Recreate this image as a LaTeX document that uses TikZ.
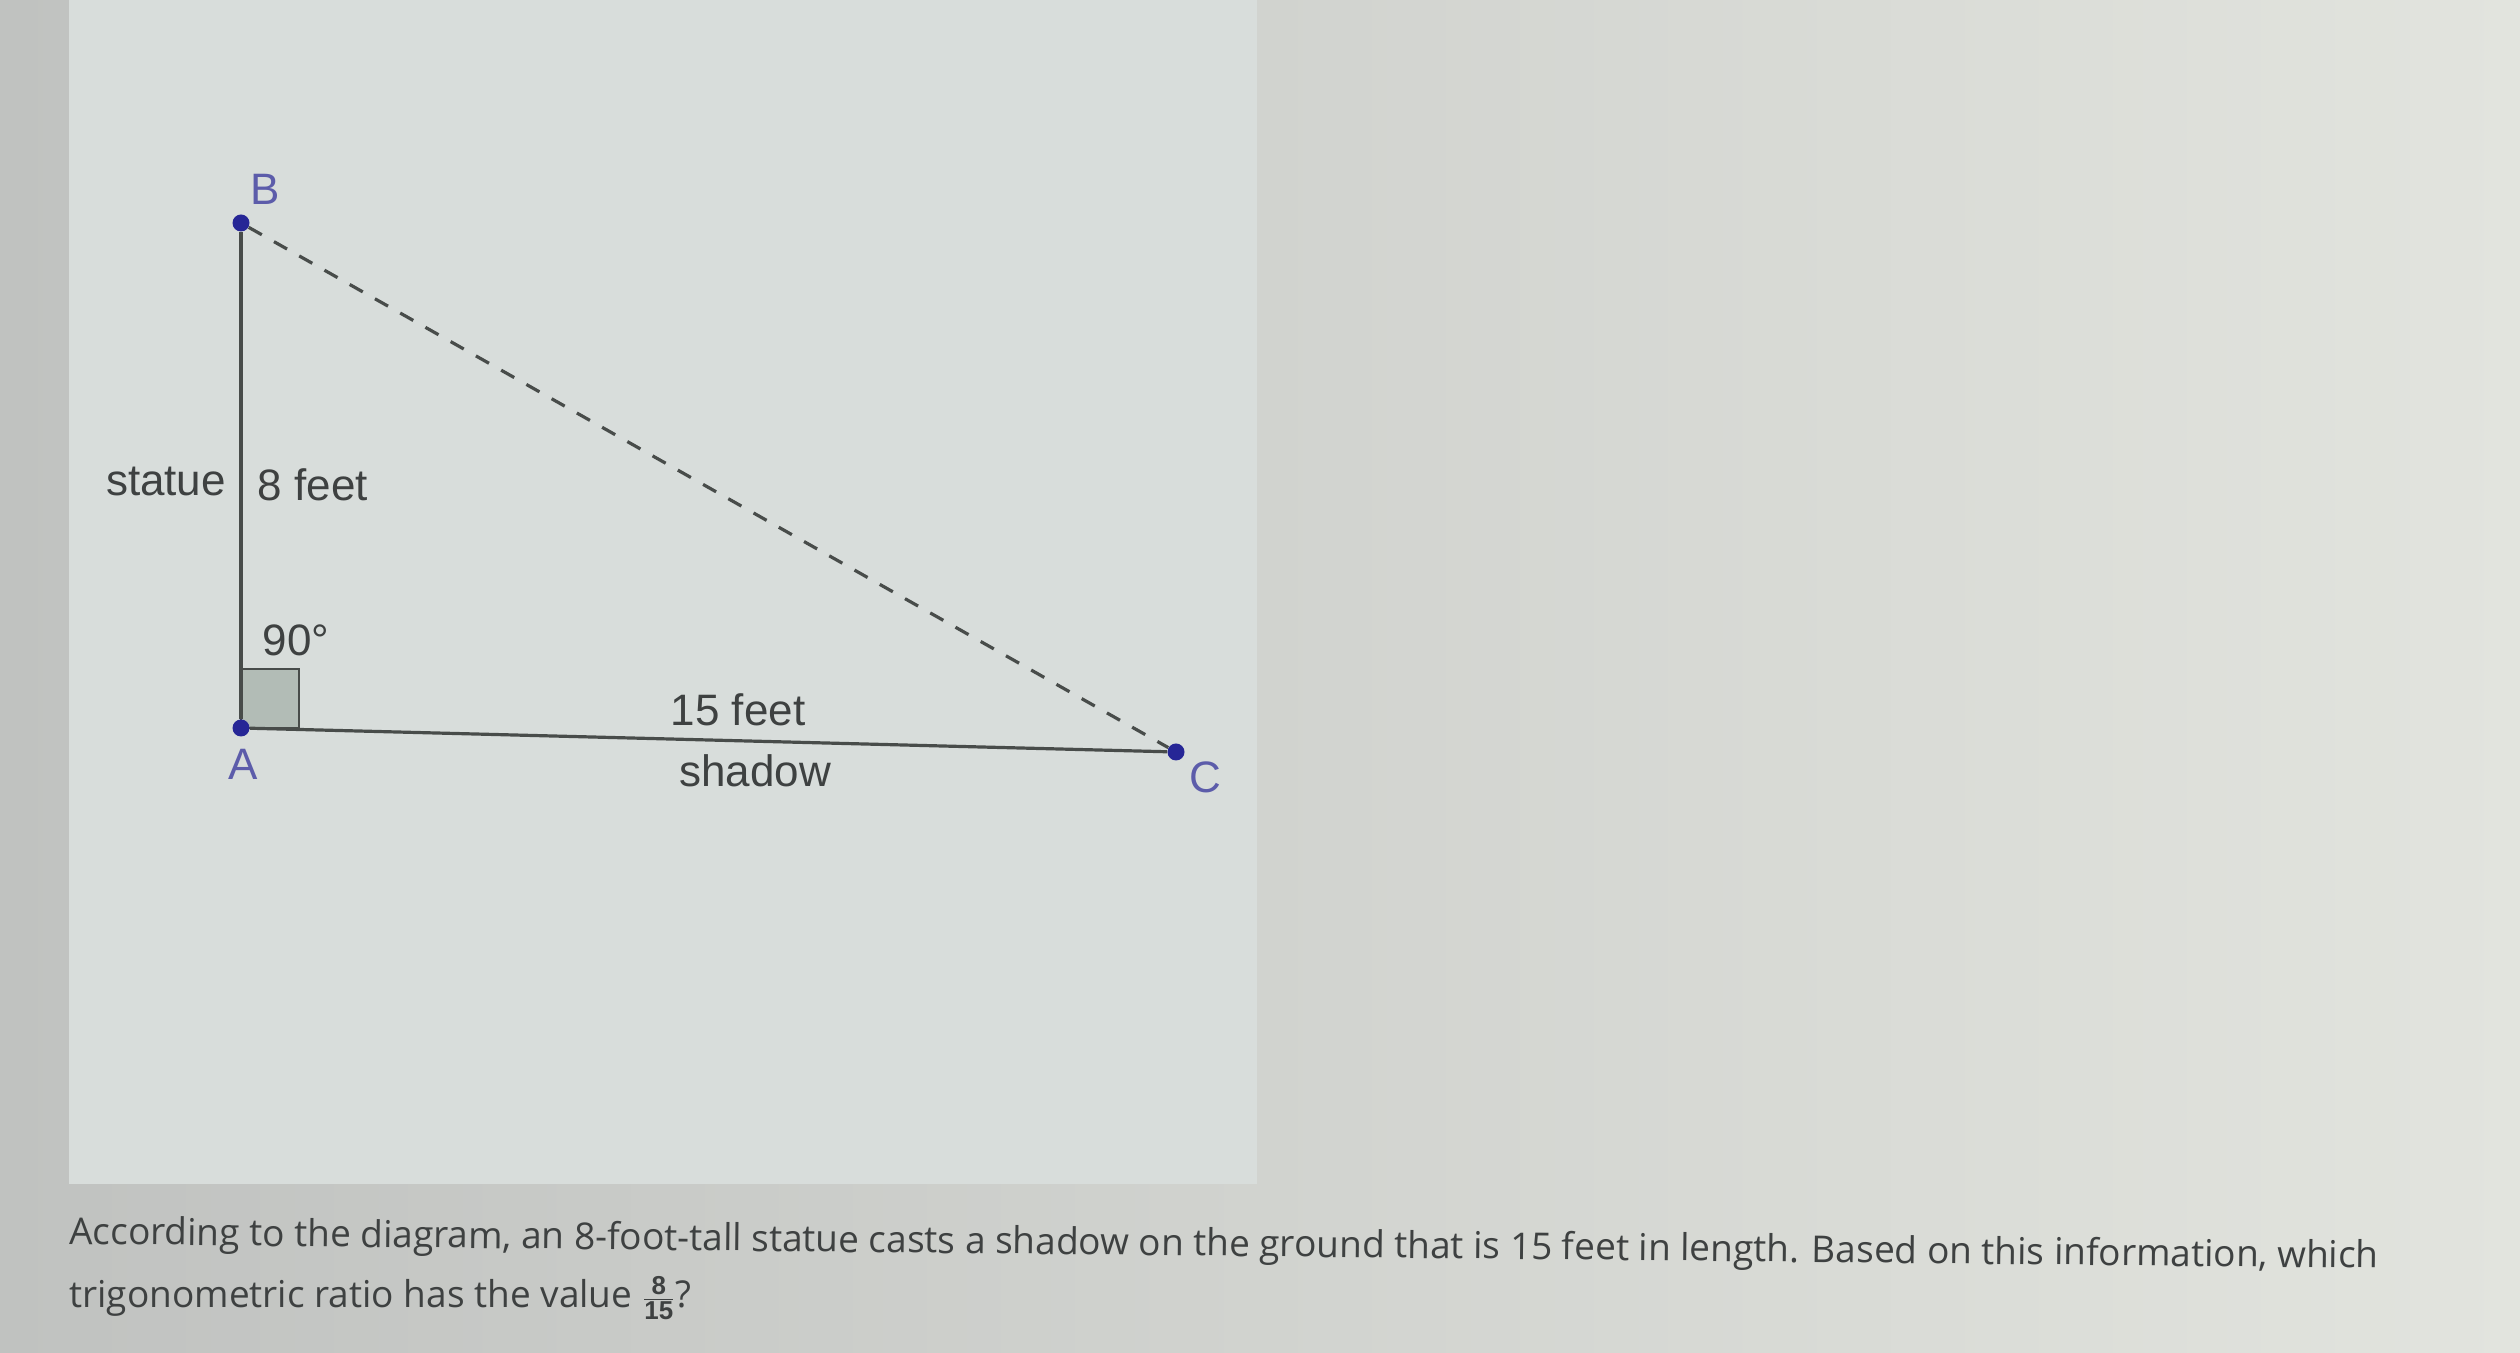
\documentclass[tikz,border=0pt]{standalone}
\usepackage{fontspec}
\setmainfont{Liberation Sans}
\newfontfamily\questionfont{Open Sans}
\definecolor{pointblue}{RGB}{38,38,150}
\definecolor{letterblue}{RGB}{92,92,170}
\definecolor{labelgray}{RGB}{62,65,65}
\definecolor{edgegray}{RGB}{72,76,74}
\definecolor{squarefill}{RGB}{178,188,182}
\definecolor{panelgray}{RGB}{216,221,219}
\definecolor{screenleft}{RGB}{192,194,192}
\definecolor{screenright}{RGB}{226,228,222}

\begin{document}
\begin{tikzpicture}
[every node/.style={inner sep=0pt},
 vertex/.style={circle, minimum size=8.5pt, fill=pointblue},
 vertexlabel/.style={text=letterblue, font=\fontsize{22}{26}\selectfont},
 sidelabel/.style={text=labelgray, font=\fontsize{22}{26}\selectfont},
 edge/.style={line width=1.6pt, color=edgegray},
 question/.style={anchor=base west, text=labelgray, font=\questionfont\fontsize{18.5}{22}\selectfont}]
\useasboundingbox (0pt,0pt) rectangle (1260pt,676.5pt);
% screen and diagram panel
\fill [left color=screenleft, right color=screenright] (0pt,0pt) rectangle (1260pt,676.5pt);
\fill [panelgray] (34.5pt,84.5pt) rectangle (628.5pt,676.5pt);
% right angle
\draw [line width=1.2pt, color=edgegray, fill=squarefill] (120.5pt, 312.5pt) rectangle (149.5pt, 342.0pt);
% points
\node (A) [vertex] at (120.5pt, 312.5pt) {};
\node (B) [vertex] at (120.5pt, 565.0pt) {};
\node (C) [vertex] at (588.0pt, 300.5pt) {};
% sides
\draw [edge] (A) to (B);
\draw [edge] (A) to (C);
\draw [edge, dash pattern=on 7.5pt off 7pt] (B) to (C);
% labels
\node (lB) [vertexlabel] at (132.5pt, 582.0pt) {B};
\node (lA) [vertexlabel] at (121.5pt, 294.5pt) {A};
\node (lC) [vertexlabel] at (602.5pt, 288.0pt) {C};
\node (statue) [sidelabel] at (83.0pt, 435.5pt) {statue};
\node (height) [sidelabel] at (156.5pt, 434.0pt) {8 feet};
\node (angle) [sidelabel] at (148.0pt, 356.5pt) {90°};
\node (length) [sidelabel] at (369.0pt, 321.5pt) {15 feet};
\node (shadow) [sidelabel] at (377.5pt, 291.0pt) {shadow};
% question
\node (line1) [question, rotate=-0.6] at (34.5pt, 54.5pt) {According to the diagram, an 8-foot-tall statue casts a shadow on the ground that is 15 feet in length. Based on this information, which};
\node (line2) [question] at (34.5pt, 22.5pt) {trigonometric ratio has the value $\frac{\mathbf{8}}{\mathbf{15}}$?};
\end{tikzpicture}
\end{document}
